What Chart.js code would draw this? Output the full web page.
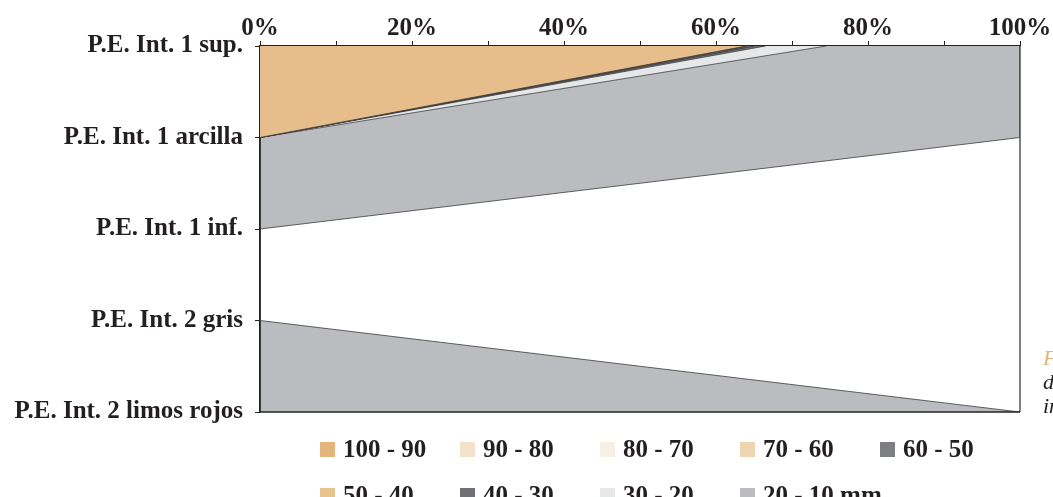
<!DOCTYPE html>
<html>
<head>
<meta charset="utf-8">
<script src="https://cdn.jsdelivr.net/npm/chart.js@4/dist/chart.umd.min.js"></script>
<style>
	body { margin: 0; background: #fff; overflow: hidden; }
	#wrap { position: relative; width: 1053px; height: 497px; overflow: hidden; }
	#legend { position: absolute; left: 320px; top: 436px; font: bold 25px 'Liberation Serif', serif; color: #231f20; }
	.item { position: absolute; white-space: nowrap; display: flex; align-items: center; height: 26px; }
	.box { width: 15px; height: 15px; margin-right: 8px; }
	#caption { position: absolute; left: 1043px; top: 346px; font: italic 22px 'Liberation Serif', serif; line-height: 24px; color: #231f20; }
</style>
</head>
<body>
<div id="wrap">
	<canvas id="chart" width="1053" height="497"></canvas>
	<div id="legend"></div>
	<div id="caption"><span style="color:#e3b57f">F</span><br>d<br>in</div>
</div>
<script>
// categories (top to bottom)
const categories = ['P.E. Int. 1 sup.', 'P.E. Int. 1 arcilla', 'P.E. Int. 1 inf.', 'P.E. Int. 2 gris', 'P.E. Int. 2 limos rojos']

// size classes
const classes = ['100 - 90', '90 - 80', '80 - 70', '70 - 60', '60 - 50', '50 - 40', '40 - 30', '30 - 20', '20 - 10 mm']

// percentage of each class per level
const c100_90 = [64, 0, 0, 0, 0]
const c90_80 = [0, 0, 0, 0, 0]
const c80_70 = [0, 0, 0, 0, 0]
const c70_60 = [0, 0, 0, 0, 0]
const c60_50 = [1, 0, 0, 0, 0]
const c50_40 = [0, 0, 0, 0, 0]
const c40_30 = [1.5, 0, 0, 0, 0]
const c30_20 = [8, 0, 0, 0, 0]
const c20_10 = [25.5, 100, 0, 0, 100]

const xTicks = [0, 20, 40, 60, 80, 100]

const series = [c100_90, c90_80, c80_70, c70_60, c60_50, c50_40, c40_30, c30_20, c20_10]
const colors = ['#e6bd8b', '#f5e2cc', '#f8efe4', '#f0d4af', '#7e7f83', '#e8c28f', '#707176', '#e6e7e9', '#bbbcc0']
const legendColors = ['#e2b57f', '#f5e2cc', '#f8efe4', '#f0d4af', '#7e7f83', '#e8c28f', '#707176', '#e6e7e9', '#bbbcc0']

const FONT = "'Liberation Serif', serif"

const datasets = series.map((data, i) => ({
	label: classes[i],
	data,
	backgroundColor: colors[i],
	borderColor: '#3c3c3e',
	borderWidth: 0.8,
	pointRadius: 0,
	tension: 0,
	fill: i === 0 ? 'origin' : '-1',
}))

// frame on right and bottom of plot
const framePlugin = {
	id: 'frame',
	afterDatasetsDraw(chart) {
		const { ctx, chartArea: a } = chart
		ctx.save()
		ctx.lineWidth = 1.5
		ctx.strokeStyle = '#555'
		ctx.beginPath()
		ctx.moveTo(a.right, a.top)
		ctx.lineTo(a.right, a.bottom)
		ctx.stroke()
		ctx.strokeStyle = '#222'
		ctx.beginPath()
		ctx.moveTo(a.left, a.bottom)
		ctx.lineTo(a.right, a.bottom)
		ctx.stroke()
		ctx.restore()
	},
}

new Chart(document.getElementById('chart'), {
	type: 'line',
	data: { labels: categories, datasets },
	plugins: [framePlugin],
	options: {
		responsive: false,
		animation: false,
		indexAxis: 'y',
		layout: { padding: { top: 0, left: 0, right: 33, bottom: 85 } },
		plugins: {
			legend: { display: false },
			tooltip: { enabled: false },
		},
		scales: {
			x: {
				type: 'linear',
				position: 'top',
				stacked: true,
				min: 0,
				max: 100,
				afterFit: s => {
					s.height = 46
					s.paddingRight = 0
				},
				afterBuildTicks: s => {
					s.ticks = []
					for (let v = 0; v <= 100; v += 10) s.ticks.push({ value: v })
				},
				grid: { drawOnChartArea: false, drawTicks: true, tickLength: 5, color: '#222', lineWidth: 1 },
				border: { display: true, color: '#222', width: 1.5 },
				ticks: {
					autoSkip: false,
					maxRotation: 0,
					padding: -3,
					color: '#231f20',
					font: { family: FONT, size: 25, weight: 'bold' },
					callback: v => xTicks.includes(v) ? v + '%' : '',
				},
			},
			y: {
				type: 'category',
				offset: false,
				afterFit: s => { s.width = 260 },
				grid: { drawOnChartArea: false, drawTicks: true, tickLength: 5, color: '#222', lineWidth: 1 },
				border: { display: true, color: '#222', width: 1.5 },
				ticks: {
					autoSkip: false,
					padding: 12,
					color: '#231f20',
					font: { family: FONT, size: 25, weight: 'bold' },
				},
			},
		},
	},
})

// legend, 5 columns
const legend = document.getElementById('legend')
classes.forEach((name, i) => {
	const item = document.createElement('div')
	item.className = 'item'
	item.style.left = (i % 5) * 140 + 'px'
	item.style.top = Math.floor(i / 5) * 46 + 'px'
	item.innerHTML = '<span class="box" style="background:' + legendColors[i] + '"></span>' + name
	legend.appendChild(item)
})
</script>
</body>
</html>
